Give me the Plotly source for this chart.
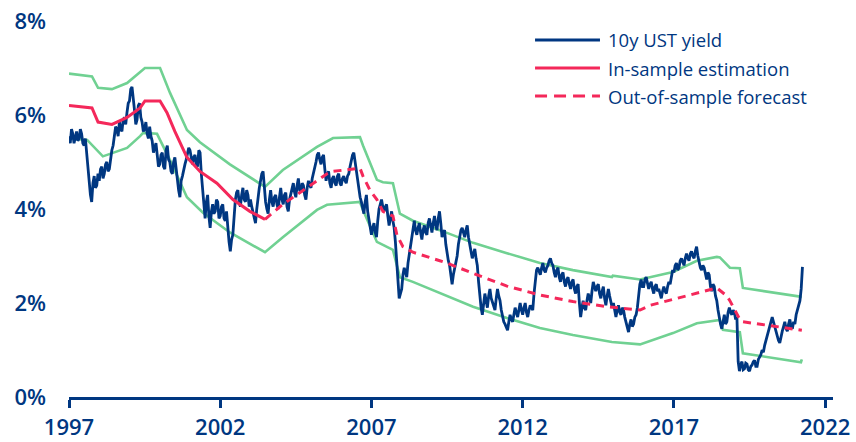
import plotly.graph_objects as go

# ---------------- data ----------------
# 10y UST yield (%), readings at the start of each month, starting 1997.0
y1997 = [5.55, 5.70, 5.40, 5.65, 5.50, 5.60, 5.35, 5.20, 4.45, 4.15, 4.70, 4.50]
y1998 = [4.60, 4.90, 4.75, 5.00, 4.85, 5.25, 5.55, 5.70, 5.85, 5.65, 5.95, 6.05]
y1999 = [6.30, 6.60, 6.10, 5.90, 6.25, 5.85, 5.70, 5.60, 5.75, 5.45, 5.30, 5.15]
y2000 = [4.95, 5.20, 4.85, 5.35, 5.00, 4.75, 5.10, 4.60, 4.25, 4.70, 4.95, 5.15]
y2001 = [5.25, 4.95, 5.15, 4.90, 5.20, 4.40, 3.80, 4.30, 3.60, 4.10, 3.95, 4.15]
y2002 = [3.85, 4.10, 3.75, 3.50, 3.10, 3.45, 4.20, 4.40, 4.05, 4.45, 4.15, 4.30]
y2003 = [4.20, 3.95, 3.70, 4.25, 4.60, 4.80, 4.15, 3.90, 4.40, 4.05, 4.30, 4.00]
y2004 = [4.45, 4.10, 4.35, 3.95, 4.30, 4.55, 4.25, 4.65, 4.35, 4.50, 4.20, 4.60]
y2005 = [4.45, 4.75, 5.00, 5.20, 4.95, 5.15, 4.60, 4.80, 4.45, 4.70, 4.50, 4.75]
y2006 = [4.50, 4.70, 4.55, 4.75, 5.05, 5.20, 4.85, 4.40, 4.15, 3.90, 4.30, 3.75]
y2007 = [3.45, 3.70, 3.40, 4.00, 4.20, 3.95, 4.10, 3.65, 3.95, 3.60, 2.90, 2.10]
y2008 = [2.30, 2.75, 2.55, 3.05, 3.40, 3.75, 3.45, 3.70, 3.35, 3.65, 3.45, 3.80]
y2009 = [3.50, 3.85, 3.55, 3.95, 3.40, 3.55, 3.05, 2.80, 2.40, 2.75, 3.00, 3.45]
y2010 = [3.60, 3.40, 3.65, 3.25, 2.95, 3.15, 2.80, 2.10, 1.75, 2.20, 1.90, 2.30]
y2011 = [2.00, 1.85, 2.30, 2.05, 1.70, 1.55, 1.42, 1.75, 1.60, 1.90, 1.70, 2.00]
y2012 = [1.75, 2.00, 1.70, 1.95, 1.85, 2.55, 2.75, 2.60, 2.85, 2.65, 2.80, 2.95]
y2013 = [2.80, 2.55, 2.75, 2.45, 2.65, 2.35, 2.55, 2.30, 2.50, 2.20, 2.40, 1.70]
y2014 = [2.05, 1.85, 2.20, 2.00, 2.45, 2.25, 2.40, 2.10, 2.35, 1.95, 2.30, 2.05]
y2015 = [2.00, 1.70, 1.95, 1.75, 1.85, 1.60, 1.38, 1.65, 1.55, 1.75, 2.15, 2.50]
y2016 = [2.35, 2.55, 2.30, 2.45, 2.20, 2.40, 2.30, 2.10, 2.35, 2.20, 2.45, 2.55]
y2017 = [2.65, 2.85, 2.75, 2.95, 2.80, 3.05, 2.90, 3.10, 2.95, 3.20, 2.85, 2.70]
y2018 = [2.75, 2.50, 2.60, 2.25, 2.35, 2.05, 1.65, 1.45, 1.75, 1.60, 1.90, 1.75]
y2019 = [1.80, 1.70, 0.55, 0.75, 0.60, 0.70, 0.55, 0.68, 0.78, 0.65, 0.85, 1.00]
y2020 = [1.10, 1.30, 1.55, 1.70, 1.50, 1.25, 1.15, 1.40, 1.60, 1.40, 1.65, 1.45]
y2021 = [1.55, 1.85, 2.05, 2.77]

# 10y UST yield (%), mid-month readings
m1997 = [5.40, 5.60, 5.55, 5.45, 5.70, 5.40, 5.50, 4.80, 4.30, 4.55, 4.45, 4.75]
m1998 = [4.85, 4.65, 4.95, 4.80, 5.10, 5.35, 5.75, 5.55, 5.70, 5.90, 5.80, 6.25]
m1999 = [6.55, 6.25, 5.80, 6.20, 5.95, 5.65, 5.85, 5.50, 5.55, 5.20, 5.40, 4.90]
m2000 = [5.15, 4.90, 5.25, 5.05, 4.80, 5.00, 4.85, 4.40, 4.60, 4.85, 5.05, 5.30]
m2001 = [5.05, 5.10, 4.95, 5.25, 4.75, 3.95, 4.15, 3.85, 3.95, 3.90, 4.20, 3.80]
m2002 = [4.05, 3.80, 3.95, 3.30, 3.35, 3.90, 4.35, 4.15, 4.30, 4.20, 4.40, 4.05]
m2003 = [4.05, 3.80, 4.00, 4.45, 4.75, 4.45, 4.00, 4.20, 4.15, 4.25, 4.10, 4.25]
m2004 = [4.20, 4.30, 4.05, 4.20, 4.45, 4.35, 4.50, 4.40, 4.55, 4.30, 4.45, 4.50]
m2005 = [4.65, 4.90, 5.15, 5.05, 5.10, 4.85, 4.75, 4.55, 4.65, 4.55, 4.70, 4.55]
m2006 = [4.65, 4.60, 4.70, 4.90, 5.15, 5.00, 4.60, 4.25, 4.00, 4.15, 3.95, 3.55]
m2007 = [3.60, 3.50, 3.75, 4.10, 4.05, 4.05, 3.85, 3.80, 3.75, 3.30, 2.50, 2.20]
m2008 = [2.60, 2.65, 2.85, 3.25, 3.60, 3.55, 3.60, 3.50, 3.55, 3.50, 3.70, 3.65]
m2009 = [3.70, 3.65, 3.80, 3.70, 3.50, 3.25, 2.90, 2.55, 2.60, 2.90, 3.25, 3.55]
m2010 = [3.50, 3.55, 3.40, 3.10, 3.05, 2.95, 2.45, 1.90, 2.00, 2.05, 2.15, 2.10]
m2011 = [1.90, 2.10, 2.15, 1.85, 1.60, 1.50, 1.60, 1.65, 1.75, 1.80, 1.85, 1.85]
m2012 = [1.90, 1.80, 1.85, 1.90, 2.20, 2.70, 2.65, 2.75, 2.70, 2.75, 2.90, 2.85]
m2013 = [2.65, 2.70, 2.55, 2.60, 2.45, 2.50, 2.40, 2.45, 2.30, 2.35, 2.00, 1.90]
m2014 = [1.90, 2.05, 2.10, 2.25, 2.35, 2.35, 2.20, 2.25, 2.10, 2.15, 2.15, 1.90]
m2015 = [1.80, 1.85, 1.80, 1.90, 1.70, 1.50, 1.55, 1.50, 1.70, 1.90, 2.40, 2.35]
m2016 = [2.50, 2.40, 2.40, 2.30, 2.35, 2.25, 2.20, 2.25, 2.25, 2.35, 2.40, 2.70]
m2017 = [2.80, 2.70, 2.90, 2.85, 2.95, 2.95, 3.05, 3.00, 3.10, 3.00, 2.75, 2.80]
m2018 = [2.60, 2.65, 2.35, 2.40, 2.15, 1.85, 1.55, 1.65, 1.55, 1.80, 1.80, 1.85]
m2019 = [1.65, 0.75, 0.70, 0.58, 0.72, 0.58, 0.65, 0.75, 0.65, 0.80, 0.90, 0.95]
m2020 = [1.20, 1.45, 1.60, 1.60, 1.35, 1.20, 1.30, 1.50, 1.45, 1.55, 1.50, 1.60]
m2021 = [1.75, 1.95, 2.30]

yield_start = 1997.0
month_start_vals = (y1997 + y1998 + y1999 + y2000 + y2001 + y2002 + y2003 + y2004 +
                    y2005 + y2006 + y2007 + y2008 + y2009 + y2010 + y2011 + y2012 +
                    y2013 + y2014 + y2015 + y2016 + y2017 + y2018 + y2019 + y2020 + y2021)
mid_month_vals = (m1997 + m1998 + m1999 + m2000 + m2001 + m2002 + m2003 + m2004 +
                  m2005 + m2006 + m2007 + m2008 + m2009 + m2010 + m2011 + m2012 +
                  m2013 + m2014 + m2015 + m2016 + m2017 + m2018 + m2019 + m2020 + m2021)

yield_dates, yield_values = [], []
for i, v in enumerate(month_start_vals):
    yield_dates.append(yield_start + i / 12)
    yield_values.append(v)
    if i < len(mid_month_vals):
        yield_dates.append(yield_start + (i + 0.5) / 12)
        yield_values.append(mid_month_vals[i])

# In-sample estimation
ins_dates = [1997.0, 1997.76, 1997.96, 1998.42, 1998.92, 1999.35, 1999.51, 2000.01,
             2000.24, 2000.50, 2000.90, 2001.33, 2001.89, 2002.42, 2002.98, 2003.48]
ins_values = [6.20, 6.15, 5.85, 5.80, 5.95, 6.15, 6.30, 6.30,
              6.05, 5.65, 5.10, 4.80, 4.55, 4.20, 3.95, 3.78]

# Out-of-sample forecast
oos_dates = [2003.48, 2004.07, 2005.20, 2005.53, 2005.73, 2006.62, 2006.72, 2006.95,
             2007.18, 2007.38, 2007.71, 2007.84, 2008.04, 2008.37, 2009.26, 2009.50,
             2010.36, 2011.48, 2012.57, 2013.66, 2014.79, 2015.88, 2016.21, 2016.97,
             2017.63, 2018.29, 2018.42, 2018.75, 2018.85, 2019.18, 2019.28, 2020.17, 2021.23]
oos_values = [3.78, 4.10, 4.60, 4.75, 4.80, 4.87, 4.70, 4.40,
              4.20, 3.95, 3.85, 3.45, 3.20, 3.08, 2.90, 2.85,
              2.63, 2.36, 2.17, 2.03, 1.92, 1.85, 1.95, 2.08,
              2.18, 2.30, 2.32, 2.15, 2.05, 1.65, 1.60, 1.52, 1.42]

# Upper band
up_dates = [1997.0, 1997.76, 1997.96, 1998.42, 1998.92, 1999.45, 1999.51, 2000.01,
            2000.34, 2000.90, 2001.33, 2002.32, 2003.48, 2004.07, 2005.20, 2005.73,
            2006.62, 2006.72, 2007.18, 2007.38, 2007.71, 2007.94, 2008.37, 2009.26,
            2010.36, 2011.48, 2012.57, 2013.66, 2014.95, 2014.98, 2015.88, 2016.97,
            2017.76, 2018.42, 2018.52, 2018.85, 2019.18, 2019.28, 2021.23]
up_values = [6.88, 6.82, 6.58, 6.55, 6.68, 6.96, 7.00, 7.00,
             6.47, 5.68, 5.42, 4.95, 4.47, 4.83, 5.32, 5.51,
             5.53, 5.35, 4.62, 4.57, 4.55, 3.90, 3.75, 3.55,
             3.28, 3.06, 2.85, 2.70, 2.55, 2.58, 2.50, 2.66,
             2.90, 2.98, 2.97, 2.75, 2.74, 2.32, 2.13]

# Lower band
lo_dates = [1997.0, 1997.60, 1998.12, 1998.92, 1999.35, 1999.45, 1999.91, 2000.34,
            2000.90, 2001.43, 2002.32, 2003.48, 2004.07, 2005.20, 2005.53, 2006.62,
            2006.72, 2007.18, 2007.71, 2007.94, 2008.37, 2009.26, 2010.36, 2011.48,
            2012.57, 2013.66, 2014.95, 2015.88, 2016.97, 2017.76, 2018.52, 2018.62,
            2019.18, 2019.28, 2021.20, 2021.23]
lo_values = [5.50, 5.47, 5.12, 5.30, 5.55, 5.62, 5.60, 5.04,
             4.25, 3.92, 3.50, 3.08, 3.40, 3.98, 4.09, 4.15,
             3.98, 3.30, 3.13, 2.55, 2.45, 2.22, 1.92, 1.68,
             1.47, 1.32, 1.17, 1.12, 1.36, 1.57, 1.64, 1.43,
             1.38, 0.93, 0.74, 0.80]

x_ticks = [1997, 2002, 2007, 2012, 2017, 2022]
y_ticks = [0, 2, 4, 6, 8]
legend_labels = ["10y UST yield", "In-sample estimation", "Out-of-sample forecast"]

# ---------------- style ----------------
NAVY = "#003781"
RED = "#F4285A"
GREEN = "#70D192"
FONT = "Open Sans"

fig = go.Figure()
fig.add_trace(go.Scatter(x=up_dates, y=up_values, mode="lines",
                         line=dict(color=GREEN, width=2.6), showlegend=False, hoverinfo="skip"))
fig.add_trace(go.Scatter(x=lo_dates, y=lo_values, mode="lines",
                         line=dict(color=GREEN, width=2.6), showlegend=False, hoverinfo="skip"))
fig.add_trace(go.Scatter(x=yield_dates, y=yield_values, mode="lines",
                         line=dict(color=NAVY, width=2.8), showlegend=False))
fig.add_trace(go.Scatter(x=ins_dates, y=ins_values, mode="lines",
                         line=dict(color=RED, width=3), showlegend=False))
fig.add_trace(go.Scatter(x=oos_dates, y=oos_values, mode="lines",
                         line=dict(color=RED, width=3, dash="8px,6px"), showlegend=False))

# manual legend (long line samples as in the reference)
leg_rows = [0.9495, 0.875, 0.8005]
leg_styles = [dict(color=NAVY, width=3), dict(color=RED, width=3),
              dict(color=RED, width=3, dash="12px,7px")]
for yrow, lab, st in zip(leg_rows, legend_labels, leg_styles):
    fig.add_shape(type="line", xref="paper", yref="paper",
                  x0=0.610, x1=0.695, y0=yrow, y1=yrow, line=st)
    fig.add_annotation(xref="paper", yref="paper", x=0.703, y=yrow,
                       text=lab, showarrow=False, xanchor="left", yanchor="middle",
                       font=dict(family=FONT, size=18.5, color=NAVY))

fig.update_layout(
    width=856, height=442,
    margin=dict(l=69, r=23, t=21, b=45),
    plot_bgcolor="white", paper_bgcolor="white",
    showlegend=False,
    xaxis=dict(range=[1997, 2022.26], tickvals=x_ticks, ticktext=[str(t) for t in x_ticks],
               showgrid=False, zeroline=False, showline=True, linecolor=NAVY, linewidth=3,
               ticks="outside", ticklen=8, tickwidth=3, tickcolor=NAVY,
               ticklabelstandoff=1, automargin=False,
               tickfont=dict(family=FONT, size=22, color=NAVY, weight=600)),
    yaxis=dict(range=[0, 8], tickvals=y_ticks, ticktext=[f"{t}%" for t in y_ticks],
               showgrid=False, zeroline=False, showline=False, ticks="",
               ticklabelstandoff=22, automargin=False,
               tickfont=dict(family=FONT, size=22, color=NAVY, weight=600)),
)

fig.write_html("out.html")
